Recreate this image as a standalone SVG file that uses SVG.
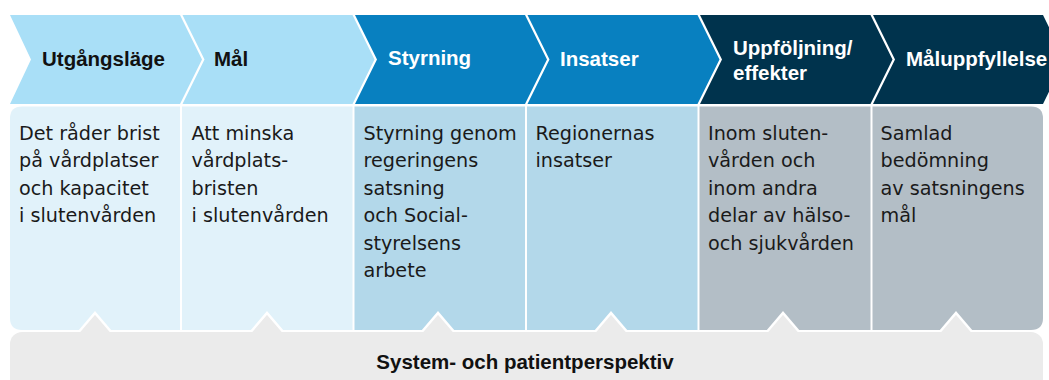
<svg xmlns="http://www.w3.org/2000/svg" width="1049" height="380" viewBox="0 0 1049 380">
<style>
.hd{font-family:"Liberation Sans",Arial,sans-serif;font-weight:bold;font-size:20.5px}
.dk{fill:#111}
.lt{fill:#fff}
.bd{font-family:"DejaVu Sans",sans-serif;font-size:19.2px;fill:#1a1a1a}
.tab{fill:#ebebeb;stroke:#fff;stroke-width:2.5;stroke-linejoin:miter}
</style>
<rect width="1049" height="380" fill="#fff"/>
<g id="headers">
<g id="h1"><polygon points="10,15 180,15 202,59.5 180,104 10,104 31,59.5" fill="#a9dff7"/><text class="hd dk" x="42" y="66">Utgångsläge</text></g>
<g id="h2"><polygon points="182.5,15 352.5,15 374.5,59.5 352.5,104 182.5,104 204.5,59.5" fill="#a9dff7"/><text class="hd dk" x="214" y="66">Mål</text></g>
<g id="h3"><polygon points="355,15 525,15 547,59.5 525,104 355,104 377,59.5" fill="#0880c0"/><text class="hd lt" x="388" y="65">Styrning</text></g>
<g id="h4"><polygon points="527.5,15 697.5,15 719.5,59.5 697.5,104 527.5,104 549.5,59.5" fill="#0880c0"/><text class="hd lt" x="560" y="66">Insatser</text></g>
<g id="h5"><polygon points="700,15 870.5,15 892.5,59.5 870.5,104 700,104 722,59.5" fill="#00334d"/><text class="hd lt" x="733" y="55">Uppföljning/</text><text class="hd lt" x="733" y="80">effekter</text></g>
<g id="h6"><polygon points="873,15 1043,15 1065,59.5 1043,104 873,104 895,59.5" fill="#00334d"/><text class="hd lt" x="906" y="66">Måluppfyllelse</text></g>
</g>
<g id="columns">
<g id="c1"><path d="M22,106.5 H180 V330 H22 Q10,330 10,318 V118.5 Q10,106.5 22,106.5 Z" fill="#e1f2fa"/>
<text class="bd" x="19"><tspan x="19" y="139.5">Det råder brist</tspan><tspan x="19" y="167">på vårdplatser</tspan><tspan x="19" y="194.5">och kapacitet</tspan><tspan x="19" y="222">i slutenvården</tspan></text></g>
<g id="c2"><rect x="182" y="106.5" width="170.5" height="223.5" fill="#e1f2fa"/>
<text class="bd"><tspan x="191.5" y="139.5">Att minska</tspan><tspan x="191.5" y="167">vårdplats-</tspan><tspan x="191.5" y="194.5">bristen</tspan><tspan x="191.5" y="222">i slutenvården</tspan></text></g>
<g id="c3"><rect x="354.5" y="106.5" width="170.5" height="223.5" fill="#b3d8ea"/>
<text class="bd"><tspan x="363.5" y="139.5">Styrning genom</tspan><tspan x="363.5" y="167">regeringens</tspan><tspan x="363.5" y="194.5">satsning</tspan><tspan x="363.5" y="222">och Social-</tspan><tspan x="363.5" y="249.5">styrelsens</tspan><tspan x="363.5" y="277">arbete</tspan></text></g>
<g id="c4"><rect x="527" y="106.5" width="170.5" height="223.5" fill="#b3d8ea"/>
<text class="bd"><tspan x="535.5" y="139.5">Regionernas</tspan><tspan x="535.5" y="167">insatser</tspan></text></g>
<g id="c5"><rect x="699.5" y="106.5" width="171" height="223.5" fill="#b3bec6"/>
<text class="bd"><tspan x="708" y="139.5">Inom sluten-</tspan><tspan x="708" y="167">vården och</tspan><tspan x="708" y="194.5">inom andra</tspan><tspan x="708" y="222">delar av hälso-</tspan><tspan x="708" y="249.5">och sjukvården</tspan></text></g>
<g id="c6"><path d="M872.5,106.5 H1031 Q1043,106.5 1043,118.5 V318 Q1043,330 1031,330 H872.5 Z" fill="#b3bec6"/>
<text class="bd"><tspan x="880.5" y="139.5">Samlad</tspan><tspan x="880.5" y="167">bedömning</tspan><tspan x="880.5" y="194.5">av satsningens</tspan><tspan x="880.5" y="222">mål</tspan></text></g>
</g>
<g id="tabs">
<polygon class="tab" points="77,334 95,313 113,334"/>
<polygon class="tab" points="249,334 267,313 285,334"/>
<polygon class="tab" points="420,334 438,313 456,334"/>
<polygon class="tab" points="593,334 611,313 629,334"/>
<polygon class="tab" points="765,334 783,313 801,334"/>
<polygon class="tab" points="938,334 956,313 974,334"/>
</g>
<g id="band">
<rect x="10" y="332" width="1033" height="70" rx="12" fill="#ebebeb"/>
<text class="hd dk" x="525" y="368.5" text-anchor="middle" font-size="20">System- och patientperspektiv</text>
</g>
</svg>
